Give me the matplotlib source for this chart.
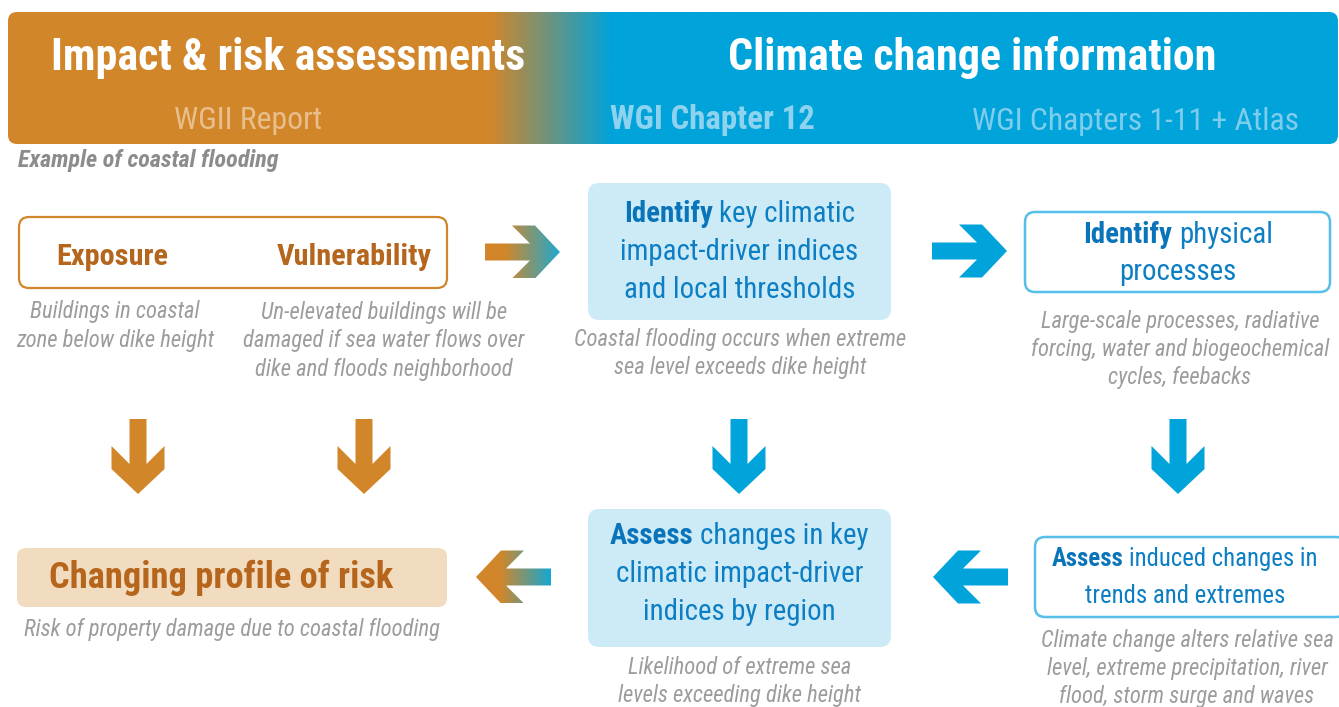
import os
import matplotlib
matplotlib.use("Agg")
import matplotlib.pyplot as plt
import numpy as np
from matplotlib.patches import FancyBboxPatch, Polygon
from matplotlib import font_manager
from matplotlib.font_manager import FontProperties
from matplotlib.colors import to_rgb

# ---------------- content ----------------
header_titles = ["Impact & risk assessments", "Climate change information"]
header_subtitles = ["WGII Report", "WGI Chapter 12", "WGI Chapters 1-11 + Atlas"]
example_label = "Example of coastal flooding"
exposure_labels = ["Exposure", "Vulnerability"]
exposure_note = ["Buildings in coastal", "zone below dike height"]
vulnerability_note = ["Un-elevated buildings will be", "damaged if sea water flows over",
                      "dike and floods neighborhood"]
identify_cid_lines = [("Identify", "key climatic"), ("", "impact-driver indices"), ("", "and local thresholds")]
identify_cid_note = ["Coastal flooding occurs when extreme", "sea level exceeds dike height"]
identify_phys_lines = [("Identify", "physical"), ("", "processes")]
identify_phys_note = ["Large-scale processes, radiative", "forcing, water and biogeochemical",
                      "cycles, feebacks"]
assess_cid_lines = [("Assess", "changes in key"), ("", "climatic impact-driver"), ("", "indices by region")]
assess_cid_note = ["Likelihood of extreme sea", "levels exceeding dike height"]
assess_ind_lines = [("Assess", "induced changes in"), ("", "trends and extremes")]
assess_ind_note = ["Climate change alters relative sea", "level, extreme precipitation, river",
                   "flood, storm surge and waves"]
risk_label = "Changing profile of risk"
risk_note = ["Risk of property damage due to coastal flooding"]

# ---------------- style ----------------
ORANGE = "#D2862A"
BLUE = "#00A3DA"
ORANGE_TXT = "#B5661C"
BLUE_TXT = "#0C7EC3"
BLUE_BOLD = "#0A74BA"
GRAY = "#9C9C9C"
LIGHT_BLUE_FILL = "#CDEBF7"
LIGHT_ORANGE_FILL = "#F2DCBF"
BLUE_EDGE = "#55BEE9"


# ---------------- font selection (prefer a narrow sans) ----------------
def _w(e):
    w = e.weight
    if isinstance(w, str):
        w = font_manager.weight_dict.get(w, 400)
    return w


def _pick_group():
    ents = font_manager.fontManager.ttflist

    def cond(e):
        fn = os.path.basename(e.fname).lower()
        nm = e.name.lower()
        bad = any(k in fn for k in ("extra", "ultra", "semi", "mono", "serif"))
        good = ("narrow" in fn or "condensed" in fn or "narrow" in nm
                or "condensed" in nm or e.stretch == "condensed")
        return good and not bad

    for key in ["liberation sans narrow", "arial narrow", "roboto condensed",
                "open sans condensed", "noto sans", "open sans", "dejavu sans"]:
        g = [e for e in ents if e.name.lower().startswith(key) and cond(e)]
        if g:
            return g
    for key in ["liberation sans", "dejavu sans"]:
        g = [e for e in ents if e.name.lower() == key]
        if g:
            return g
    return []


GROUP = _pick_group()


def fpath(weight, italic):
    if not GROUP:
        return None
    best = min(GROUP, key=lambda e: abs(_w(e) - weight)
               + (0 if (e.style != "normal") == italic else 1000))
    return best.fname


FILES = {k: fpath(*v) for k, v in {"r": (400, False), "b": (700, False),
                                     "i": (400, True), "bi": (700, True)}.items()}


def FP(kind, size):
    p = FILES.get(kind)
    if p:
        return FontProperties(fname=p, size=size)
    return FontProperties(family="DejaVu Sans", size=size,
                          weight="bold" if "b" in kind else "normal",
                          style="italic" if "i" in kind else "normal")


W, H = 1339, 707
fig = plt.figure(figsize=(W / 100, H / 100), dpi=100)
ax = fig.add_axes([0, 0, 1, 1])
ax.set_xlim(0, W)
ax.set_ylim(H, 0)
ax.axis("off")
renderer = fig.canvas.get_renderer()


def measure(s, fp):
    t = ax.text(0, 0, s, fontproperties=fp)
    w = t.get_window_extent(renderer).width
    t.remove()
    return w


def fit(s, kind, target):
    return 20.0 * target / measure(s, FP(kind, 20.0))


# class font sizes fitted to widths
S_TITLE = fit(header_titles[0], "b", 473)
S_SUB = fit(header_subtitles[2], "r", 327)
S_SUBB = fit(header_subtitles[1], "b", 204)
S_EX = fit(example_label, "bi", 261)
S_EXPO = fit(exposure_labels[1], "b", 155)
S_NOTE = fit(vulnerability_note[1], "i", 282)
S_BOX = fit(identify_cid_lines[1][1], "r", 238)
S_BOX2 = fit(assess_ind_lines[1][1], "r", 200)
S_RISK = fit(risk_label, "b", 342)


def rbox(x0, y0, x1, y1, r, fc, ec="none", lw=0, z=1):
    p = FancyBboxPatch((x0, y0), x1 - x0, y1 - y0,
                       boxstyle=f"round,pad=0,rounding_size={r}",
                       fc=fc, ec=ec, lw=lw, zorder=z)
    ax.add_patch(p)
    return p


def hgrad_fill(patch, x0, x1, y0, y1, c0, c1, g0, g1, z=2):
    xs = np.linspace(x0, x1, 600)
    t = np.clip((xs - g0) / (g1 - g0), 0, 1)
    a, b = np.array(to_rgb(c0)), np.array(to_rgb(c1))
    rgb = (1 - t)[:, None] * a + t[:, None] * b
    img = np.repeat(rgb[None, :, :], 2, axis=0)
    im = ax.imshow(img, extent=[x0, x1, y1, y0], aspect="auto",
                   interpolation="bilinear", zorder=z)
    im.set_clip_path(patch)


def arrow_pts(tip, direction, L=75, h=26.5, s=8.5, d=25, f=23):
    loc = [(0, 0), (-d, h), (-d - f, h), (-d - f + (h - s), s), (-L, s),
           (-L, -s), (-d - f + (h - s), -s), (-d - f, -h), (-d, -h)]
    ux, uy = {"right": (1, 0), "left": (-1, 0), "down": (0, 1)}[direction]
    vx, vy = -uy, ux
    return [(tip[0] + a * ux + b * vx, tip[1] + a * uy + b * vy) for a, b in loc]


def arrow(tip, direction, color):
    ax.add_patch(Polygon(arrow_pts(tip, direction), closed=True, fc=color, ec="none", zorder=3))


def grad_arrow(tip, direction, c_left, c_right, g_left, g_right):
    pts = arrow_pts(tip, direction)
    poly = Polygon(pts, closed=True, fc="none", ec="none", zorder=3)
    ax.add_patch(poly)
    xs = [p[0] for p in pts]
    ys = [p[1] for p in pts]
    hgrad_fill(poly, min(xs), max(xs), min(ys), max(ys), c_left, c_right, g_left, g_right, z=3)


def put(x, y, s, kind, size, color, ha="center"):
    ax.text(x, y, s, fontproperties=FP(kind, size), color=color,
            ha=ha, va="baseline", zorder=5)


def lines(xc, y0, texts, size, color, dy, kind="i"):
    for i, s in enumerate(texts):
        put(xc, y0 + i * dy, s, kind, size, color)


def rich_lines(xc, y0, segs, size, dy):
    fr, fb = FP("r", size), FP("b", size)
    sp = measure("a a", fr) - measure("aa", fr)
    for i, (b, n) in enumerate(segs):
        y = y0 + i * dy
        wb = measure(b, fb) if b else 0
        wn = measure(n, fr)
        total = wb + wn + (sp if b else 0)
        x = xc - total / 2
        if b:
            put(x, y, b, "b", size, BLUE_BOLD, ha="left")
            x += wb + sp
        put(x, y, n, "r", size, BLUE_TXT, ha="left")


# ---------------- header band ----------------
hdr = rbox(8, 12, 1338, 144, 9, "none", z=1)
hgrad_fill(hdr, 8, 1338, 12, 144, ORANGE, BLUE, 490, 612, z=1)
put(288, 70, header_titles[0], "b", S_TITLE, "white")
put(972, 70, header_titles[1], "b", S_TITLE, "white")
put(248, 129, header_subtitles[0], "r", S_SUB, "#E8BF8C")
put(712, 129, header_subtitles[1], "b", S_SUBB, "#8DD2EE")
put(1135, 130, header_subtitles[2], "r", S_SUB, "#7FCDEC")
put(18, 167, example_label, "bi", S_EX, "#8C8C8C", ha="left")

# ---------------- left column ----------------
rbox(19, 217, 447, 288, 10, "white", ORANGE, 1.6, z=2)
put(112, 265, exposure_labels[0], "b", S_EXPO, ORANGE_TXT)
put(354, 265, exposure_labels[1], "b", S_EXPO, ORANGE_TXT)
lines(115, 318, exposure_note, S_NOTE, GRAY, 28.5)
lines(384, 319, vulnerability_note, S_NOTE, GRAY, 28.5)

arrow((138, 494), "down", ORANGE)
arrow((364, 494), "down", ORANGE)

rbox(17, 548, 447, 607, 9, LIGHT_ORANGE_FILL, z=2)
put(221, 588, risk_label, "b", S_RISK, ORANGE_TXT)
lines(232, 636, risk_note, S_NOTE, GRAY, 28.5)

grad_arrow((560, 252), "right", ORANGE, "#1FA9CF", 505, 560)
grad_arrow((476, 577), "left", ORANGE, "#14A8D2", 500, 551)

# ---------------- centre column ----------------
rbox(588, 183, 891, 320, 11, LIGHT_BLUE_FILL, z=2)
rich_lines(739.5, 222, identify_cid_lines, S_BOX, 38)
lines(740, 346, identify_cid_note, S_NOTE, GRAY, 28)

arrow((739, 494), "down", BLUE)

rbox(588, 509, 891, 647, 11, LIGHT_BLUE_FILL, z=2)
rich_lines(739.5, 544, assess_cid_lines, S_BOX, 38)
lines(740, 674, assess_cid_note, S_NOTE, GRAY, 28)

# ---------------- right column ----------------
arrow((1007, 251), "right", BLUE)
rbox(1025, 212, 1330, 292, 10, "white", BLUE_EDGE, 1.8, z=2)
rich_lines(1178, 243, identify_phys_lines, S_BOX, 37)
lines(1180, 328, identify_phys_note, S_NOTE, GRAY, 28)

arrow((1178, 494), "down", BLUE)

rbox(1035, 537, 1346, 617, 10, "white", BLUE_EDGE, 1.8, z=2)
rich_lines(1185, 566, assess_ind_lines, S_BOX2, 37)
lines(1187, 647, assess_ind_note, S_NOTE, GRAY, 28)
arrow((933, 577), "left", BLUE)

ax.set_xlim(0, W)
ax.set_ylim(H, 0)
fig.savefig("out.png", dpi=100)
